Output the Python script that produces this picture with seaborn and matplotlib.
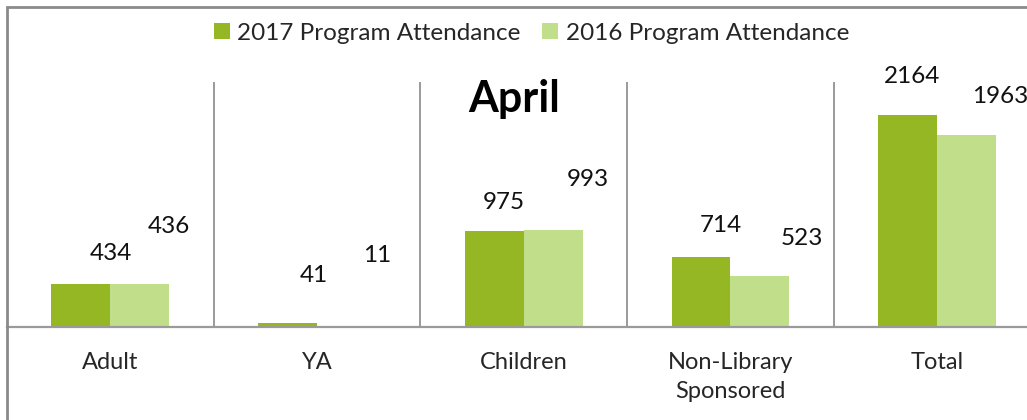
import matplotlib
matplotlib.use("Agg")
import matplotlib.pyplot as plt
import seaborn as sns
import pandas as pd
from matplotlib.patches import Rectangle

# ─── Data ────────────────────────────────────────────────────────────────
categories = ["Adult", "YA", "Children", "Non-Library\nSponsored", "Total"]
attendance_2017 = [434, 41, 975, 714, 2164]
attendance_2016 = [436, 11, 993, 523, 1963]
series_names = ["2017 Program Attendance", "2016 Program Attendance"]

# hand-placed data label offsets (pixels from top-centre of each bar)
label_offsets_2017 = [(30, 31), (26, 47), (10, 29), (20, 32), (4, 38)]
label_offsets_2016 = [(29, 58), (31, 70), (35, 50), (42, 37), (34, 38)]

dark_green = "#94B723"
light_green = "#C1DE8B"
grid_grey = "#9A9A9A"

df = pd.DataFrame({
    "Category": categories * 2,
    "Attendance": attendance_2017 + attendance_2016,
    "Series": [series_names[0]] * 5 + [series_names[1]] * 5,
})

sns.set_style("white")
plt.rcParams["font.family"] = ["Lato", "DejaVu Sans"]

W, H = 1027, 420
fig = plt.figure(figsize=(W / 100, H / 100), dpi=100)

# axes in pixel terms: left edge at x=7, baseline at y=327, top at y=82
cat_px = 206.7
ax = fig.add_axes([7 / W, (H - 327) / H, 5 * cat_px / W, (327 - 82) / H])

sns.barplot(data=df, x="Category", y="Attendance", hue="Series",
            palette=[dark_green, light_green], saturation=1,
            width=0.57, gap=0, linewidth=0, ax=ax)

ax.set_xlim(-0.5, 4.5)
ax.set_ylim(0, 2500)
ax.set_xlabel("")
ax.set_ylabel("")
ax.set_yticks([])
ax.tick_params(axis="x", length=0, pad=18, labelsize=17)
for lbl in ax.get_xticklabels():
    lbl.set_verticalalignment("top")
    lbl.set_linespacing(1.45)

for side in ["top", "right", "left"]:
    ax.spines[side].set_visible(False)
ax.spines["bottom"].set_color(grid_grey)
ax.spines["bottom"].set_linewidth(1.6)

# separators between categories
for xpos in [0.5, 1.5, 2.5, 3.5]:
    ax.axvline(xpos, color=grid_grey, lw=1.4, zorder=0)

# data labels
for container, vals, offs in zip(ax.containers,
                                 [attendance_2017, attendance_2016],
                                 [label_offsets_2017, label_offsets_2016]):
    for bar, v, (dx, dy) in zip(container, vals, offs):
        ax.annotate(f"{v}", (bar.get_x() + bar.get_width() / 2, bar.get_height()),
                    xytext=(dx, dy), textcoords="offset pixels",
                    ha="center", va="center", fontsize=17.5, color="#111111",
                    annotation_clip=False)

# legend
sns.move_legend(ax, "center", bbox_to_anchor=(531.5 / W, 1 - 33 / H),
                bbox_transform=fig.transFigure, ncol=2, frameon=False,
                title=None, fontsize=17.5, handlelength=0.65, handleheight=0.65,
                handletextpad=0.3, columnspacing=0.9)

# title inside the plot area
fig.text(514 / W, 1 - 99 / H, "April", ha="center", va="center",
         fontsize=31, fontweight="bold", color="#000000")

# chart frame (top and left edges visible)
fig.add_artist(Rectangle((7 / W, -0.1), 1.2, 1 - 7 / H + 0.1,
                         transform=fig.transFigure, fill=False,
                         edgecolor="#8A8A8A", lw=2))

fig.savefig("out.png", dpi=100)
